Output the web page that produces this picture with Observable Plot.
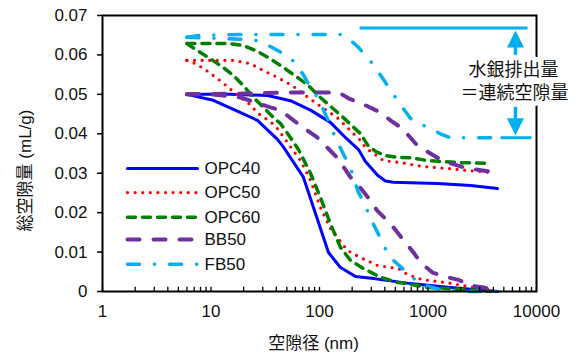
<!DOCTYPE html>
<html><head><meta charset="utf-8">
<script src="https://cdn.jsdelivr.net/npm/d3@7"></script>
<script src="https://cdn.jsdelivr.net/npm/@observablehq/plot@0.6"></script>
<style>
html,body{margin:0;padding:0;background:#fff;}
#chart svg{display:block;overflow:visible;}
</style>
</head><body><div id="chart"></div>
<script>
// ---- data (pore diameter nm, cumulative pore volume mL/g) ----
const seriesNames = ["OPC40", "OPC50", "OPC60", "BB50", "FB50"];

const opc40InD  = [6, 10.5, 16.1, 26.8, 41, 46.6, 71, 88, 121, 156, 215, 315, 690, 1610, 4370];
const opc40InV  = [0.050, 0.0485, 0.0462, 0.0434, 0.0386, 0.0366, 0.029, 0.0213, 0.0099, 0.0061, 0.0038, 0.0033, 0.0020, 0.0010, 0.0000];
const opc40OutD = [6, 15.1, 33.2, 54, 82.6, 126, 174, 229, 265, 343, 406, 481, 690, 1220, 2470, 4370];
const opc40OutV = [0.050, 0.050, 0.0497, 0.0484, 0.046, 0.0429, 0.039, 0.036, 0.033, 0.0295, 0.028, 0.0277, 0.0276, 0.0274, 0.0269, 0.0261];

const opc50InD  = [6, 7.2, 8.5, 9.9, 12.8, 14.5, 18.7, 21.7, 27.4, 31.8, 36.9, 41, 50.7, 66.8, 82.6, 102, 126, 181, 239, 343, 535, 647, 890, 1250, 1720, 2080, 3770];
const opc50InV  = [0.0586, 0.0578, 0.0566, 0.0553, 0.053, 0.0517, 0.0492, 0.048, 0.0451, 0.0439, 0.0426, 0.0413, 0.0378, 0.0332, 0.0282, 0.0213, 0.016, 0.0104, 0.0086, 0.0066, 0.0058, 0.0043, 0.003, 0.0025, 0.002, 0.0015, 0.0005];
const opc50OutD = [6, 16.1, 23.1, 30.5, 41, 56.4, 74.3, 109, 146, 193, 239, 265, 315, 389, 558, 910, 1510, 2310, 3770];
const opc50OutV = [0.0586, 0.0586, 0.0578, 0.056, 0.0543, 0.0522, 0.0497, 0.0464, 0.0441, 0.0408, 0.0383, 0.0365, 0.035, 0.0332, 0.0327, 0.0317, 0.0312, 0.0307, 0.0302];

const opc60InD  = [6, 8.0, 9.9, 13.0, 16.1, 19.9, 24.6, 30.5, 37.7, 43.7, 54.1, 64, 82.6, 102, 126, 156, 193, 255, 365, 524, 647, 990, 1300, 1990, 2860, 3770];
const opc60InV  = [0.0629, 0.0606, 0.059, 0.0568, 0.0548, 0.0522, 0.0492, 0.0467, 0.0441, 0.0426, 0.039, 0.036, 0.030, 0.0238, 0.0172, 0.0112, 0.0079, 0.0058, 0.0036, 0.0023, 0.002, 0.001, 0.0009, 0.0005, 0.0003, 0.0];
const opc60OutD = [6, 14.5, 19.9, 26.8, 35.3, 46.6, 62.7, 79.2, 102, 166, 239, 280, 330, 400, 524, 690, 990, 1870, 3770];
const opc60OutV = [0.0629, 0.0629, 0.0624, 0.0609, 0.059, 0.0568, 0.0543, 0.0522, 0.0492, 0.0441, 0.040, 0.037, 0.0355, 0.0345, 0.034, 0.0339, 0.0332, 0.0327, 0.0325];

const bb50InD  = [6, 10, 18.7, 35.3, 43.7, 57.6, 96, 145, 193, 222, 295, 340, 451, 600, 735, 850, 1100, 1510, 1870, 2630, 3250, 4370];
const bb50InV  = [0.050, 0.050, 0.0492, 0.0467, 0.046, 0.0434, 0.039, 0.034, 0.029, 0.0273, 0.0231, 0.0205, 0.0172, 0.0129, 0.0099, 0.0074, 0.0048, 0.0036, 0.003, 0.0014, 0.001, 0.0003];
const bb50OutD = [6, 20, 60, 150, 185, 277, 365, 451, 582, 800, 1210, 1610, 2310, 4370];
const bb50OutV = [0.050, 0.0502, 0.0505, 0.0505, 0.049, 0.047, 0.0454, 0.0434, 0.0413, 0.037, 0.034, 0.0325, 0.0312, 0.0302];

const fb50InD  = [6, 18.7, 25.7, 33.9, 48.6, 56.4, 69.7, 82.6, 95.9, 109, 126, 140, 163, 193, 206, 229, 265, 295, 343, 389, 451, 582, 735, 948, 1300, 2310, 4370];
const fb50InV  = [0.0645, 0.064, 0.0637, 0.0624, 0.060, 0.0586, 0.0553, 0.0517, 0.0492, 0.046, 0.0421, 0.039, 0.0353, 0.0314, 0.0287, 0.0251, 0.0218, 0.0185, 0.015, 0.0117, 0.0086, 0.0058, 0.0033, 0.0015, 0.0005, 0.0, 0.0];
const fb50OutD = [6, 8, 24.6, 156, 185, 229, 308, 406, 524, 690, 990, 1300, 1610, 2470, 4020];
const fb50OutV = [0.0645, 0.065, 0.0652, 0.0652, 0.0642, 0.0619, 0.0578, 0.053, 0.0484, 0.0439, 0.0416, 0.040, 0.039, 0.039, 0.039];

// axis ticks and labels
const xTicks = [1, 10, 100, 1000, 10000];
const xTickLabels = ["1", "10", "100", "1000", "10000"];
const yTicks = [0, 0.01, 0.02, 0.03, 0.04, 0.05, 0.06, 0.07];
const yTickLabels = ["0", "0.01", "0.02", "0.03", "0.04", "0.05", "0.06", "0.07"];
const xTitle = "空隙径 (nm)";
const yTitle = "総空隙量 (mL/g)";
const yTitleV = 0.0307;

// annotation (FB50 mercury extrusion)
const annoText = ["水銀排出量", "＝連続空隙量"];
const annoTextD = [6140, 6270];
const annoTextV = [0.0561, 0.0502];
const annoLineV = [0.0668, 0.039];
const annoLineD1 = [234, 4660];
const annoLineD2 = [8260, 8990];
const arrowD = 6400;
const arrowShaftV1 = [0.0619, 0.0467];
const arrowShaftV2 = [0.0599, 0.0434];
const arrowTipV = [0.0662, 0.0396];

// legend placement (data units inside plot)
const legendV = [0.0312, 0.0251, 0.0188, 0.0132, 0.0069];
const legendD1 = 1.70, legendD2 = 7.51, legendTextD = 8.71;

// ---- build tables ----
const raw = {
  OPC40: [[opc40InD, opc40InV], [opc40OutD, opc40OutV]],
  OPC50: [[opc50InD, opc50InV], [opc50OutD, opc50OutV]],
  OPC60: [[opc60InD, opc60InV], [opc60OutD, opc60OutV]],
  BB50:  [[bb50InD, bb50InV], [bb50OutD, bb50OutV]],
  FB50:  [[fb50InD, fb50InV], [fb50OutD, fb50OutV]]
};
const rows = [];
for (const s of seriesNames) {
  raw[s].forEach(([ds, vs], bi) => {
    ds.forEach((d, i) => rows.push({series: s, branch: s + (bi ? "-out" : "-in"), d, v: vs[i]}));
  });
}

const styles = {
  OPC40: {stroke: "#0000FF", strokeWidth: 3, strokeLinecap: "round", strokeLinejoin: "round"},
  OPC50: {stroke: "#FF0000", strokeWidth: 3.2, strokeDasharray: "0 7.6", strokeLinecap: "round", strokeLinejoin: "round"},
  OPC60: {stroke: "#008000", strokeWidth: 3.5, strokeDasharray: "8 7", strokeLinecap: "round", strokeLinejoin: "round"},
  BB50:  {stroke: "#7030A0", strokeWidth: 4, strokeDasharray: "12 14", strokeLinecap: "round", strokeLinejoin: "round"},
  FB50:  {stroke: "#00B0F0", strokeWidth: 3.5, strokeDasharray: "12 15 0.1 15", strokeLinecap: "round", strokeLinejoin: "round"}
};

const minorTicks = [];
for (const e of [0, 1, 2, 3]) for (let k = 1; k <= 9; k++) minorTicks.push(k * Math.pow(10, e));
minorTicks.push(10000);

const legendRows = seriesNames.map((s, i) => ({series: s, v: legendV[i]}));

const upHead = {draw(ctx) { ctx.moveTo(0, 0); ctx.lineTo(8.5, 17); ctx.lineTo(-8.5, 17); ctx.closePath(); }};
const downHead = {draw(ctx) { ctx.moveTo(0, 0); ctx.lineTo(8.5, -17); ctx.lineTo(-8.5, -17); ctx.closePath(); }};

const FS = 17;
const FONT = '"Liberation Sans", Arial, "Noto Sans CJK JP", sans-serif';
const TXT = "#111";

const marks = [];
// series lines
for (const s of seriesNames) {
  marks.push(Plot.line(rows.filter(r => r.series === s), {x: "d", y: "v", z: "branch", ...styles[s]}));
}
// legend
for (const r of legendRows) {
  marks.push(Plot.link([r], {x1: () => legendD1, x2: () => legendD2, y1: "v", y2: "v", ...styles[r.series]}));
}
marks.push(Plot.text(legendRows, {x: () => legendTextD, y: "v", text: "series", textAnchor: "start", fontSize: FS, fill: TXT}));

// axis ticks
marks.push(Plot.ruleX(minorTicks, {x: d => d, y1: 0, y2: 0.00105, stroke: "black", strokeWidth: 1.3}));
marks.push(Plot.ruleY(yTicks, {y: d => d, x1: 1, x2: 0.9, stroke: "black", strokeWidth: 1.5}));
marks.push(Plot.frame({stroke: "black", strokeWidth: 2}));

// tick labels
marks.push(Plot.text(xTicks, {x: d => d, frameAnchor: "bottom", dy: 25, text: (d, i) => xTickLabels[i], fontSize: FS, fill: TXT}));
marks.push(Plot.text(yTicks, {y: d => d, frameAnchor: "left", dx: -15, textAnchor: "end", text: (d, i) => yTickLabels[i], fontSize: FS, fill: TXT}));
// axis titles
marks.push(Plot.text([xTitle], {frameAnchor: "bottom", dx: -6, dy: 57, textAnchor: "middle", text: d => d, fontSize: FS, fill: TXT}));
marks.push(Plot.text([yTitle], {y: () => yTitleV, frameAnchor: "left", dx: -77, rotate: -90, textAnchor: "middle", text: d => d, fontSize: FS, fill: TXT}));

// annotation
const annoLines = annoLineV.map((v, i) => ({v, d1: annoLineD1[i], d2: annoLineD2[i]}));
marks.push(Plot.link(annoLines, {x1: "d1", x2: "d2", y1: "v", y2: "v", stroke: "#00B0F0", strokeWidth: 3}));
const shafts = arrowShaftV1.map((v1, i) => ({v1, v2: arrowShaftV2[i]}));
marks.push(Plot.ruleX(shafts, {x: () => arrowD, y1: "v1", y2: "v2", stroke: "#00B0F0", strokeWidth: 3.5}));
marks.push(Plot.dot([arrowTipV[0]], {x: () => arrowD, y: d => d, symbol: upHead, fill: "#00B0F0", stroke: "none"}));
marks.push(Plot.dot([arrowTipV[1]], {x: () => arrowD, y: d => d, symbol: downHead, fill: "#00B0F0", stroke: "none"}));
const annoRows = annoText.map((t, i) => ({t, d: annoTextD[i], v: annoTextV[i]}));
marks.push(Plot.text(annoRows, {x: "d", y: "v", text: "t", fontSize: FS + 1, fill: TXT, stroke: "white", strokeWidth: 10, paintOrder: "stroke", strokeLinejoin: "round"}));

const chart = Plot.plot({
  width: 576,
  height: 354,
  marginLeft: 102,
  marginRight: 40,
  marginTop: 15,
  marginBottom: 63,
  style: {fontFamily: FONT, fontSize: FS + "px", background: "white", color: TXT},
  x: {type: "log", domain: [1, 10000], axis: null},
  y: {domain: [0, 0.07], axis: null},
  marks
});
document.getElementById("chart").appendChild(chart);
</script>
</body></html>
